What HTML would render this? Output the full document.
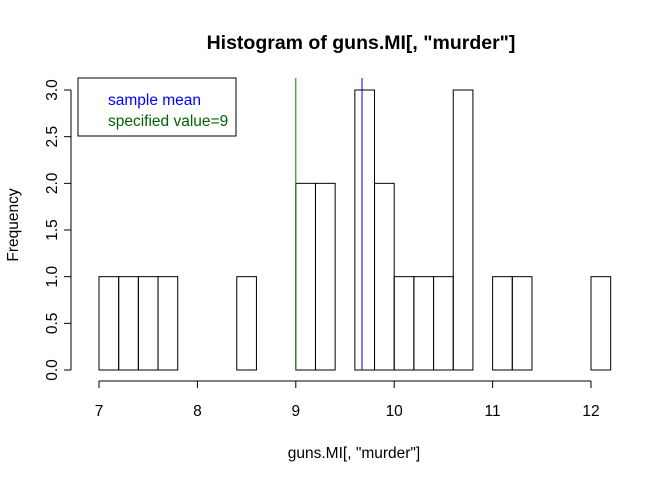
<!DOCTYPE html>
<html><head><meta charset="utf-8"><style>
body{margin:0;background:#fff}
svg{display:block;font-family:"Liberation Sans",Arial,sans-serif}
</style></head><body>
<svg id="chart" width="672" height="480" viewBox="0 0 672 480">
<text x="361" y="49" text-anchor="middle" font-size="19.5" font-weight="bold">Histogram of guns.MI[, "murder"]</text>
<text x="354" y="458" text-anchor="middle" font-size="15.5">guns.MI[, "murder"]</text>
<text x="18" y="225" text-anchor="middle" font-size="15.5" transform="rotate(-90 18 225)">Frequency</text>
<g id="bars"></g>
<g id="xaxis"></g>
<g id="yaxis"></g>
<g id="refs"></g>
<g>
<rect x="78" y="78" width="158" height="58" fill="#fff" stroke="#000"/>
<text x="108" y="105" font-size="15.5" fill="#0000ff">sample mean</text>
<text x="108" y="126" font-size="15.5" fill="#006400">specified value=9</text>
</g>
</svg>
<script>
const binStarts=[7.0,7.2,7.4,7.6,7.8,8.0,8.2,8.4,8.6,8.8,9.0,9.2,9.4,9.6,9.8,10.0,10.2,10.4,10.6,10.8,11.0,11.2,11.4,11.6,11.8,12.0];
const counts=[1,1,1,1,0,0,0,1,0,0,2,2,0,3,2,1,1,1,3,0,1,1,0,0,0,1];
const binWidth=0.2;
const xTicks=[7,8,9,10,11,12];
const yTicks=["0.0","0.5","1.0","1.5","2.0","2.5","3.0"];
const sampleMean=9.673;
const specifiedValue=9;
const NS="http://www.w3.org/2000/svg";
const x=v=>99+(v-7)*98.4;
const y=v=>370-v*93.33;
function mk(tag,attrs,parent,text){const e=document.createElementNS(NS,tag);for(const k in attrs)e.setAttribute(k,attrs[k]);if(text!==undefined)e.textContent=text;parent.appendChild(e);return e;}
const bars=document.getElementById('bars');
binStarts.forEach((b,i)=>{
 const r=mk('rect',{x:x(b),y:y(counts[i]),width:x(b+binWidth)-x(b),height:y(0)-y(counts[i]),fill:'none',stroke:'#000','stroke-width':1},bars);
 
 
});
const xa=document.getElementById('xaxis');
const xl=mk('line',{x1:x(xTicks[0]),x2:x(xTicks[xTicks.length-1]),y1:381,y2:381,stroke:'#000'},xa);


xTicks.forEach(t=>{
 mk('line',{x1:x(t),x2:x(t),y1:381,y2:388,stroke:'#000'},xa);
 const tx=mk('text',{x:x(t),y:416,'text-anchor':'middle','font-size':15.5},xa,String(t));
 
 
});
const ya=document.getElementById('yaxis');
const yl=mk('line',{x1:71,x2:71,y1:y(0),y2:y(3),stroke:'#000'},ya);


yTicks.forEach(t=>{
 const v=parseFloat(t);
 mk('line',{x1:64,x2:71,y1:y(v),y2:y(v),stroke:'#000'},ya);
 const tx=mk('text',{x:57,y:y(v),'text-anchor':'middle','font-size':15.5,transform:`rotate(-90 57 ${y(v)})`},ya,t);
 
 
});
const refs=document.getElementById('refs');
const m=mk('line',{x1:x(sampleMean),x2:x(sampleMean),y1:78,y2:370,stroke:'#0000ff'},refs);


const s=mk('line',{x1:x(specifiedValue),x2:x(specifiedValue),y1:78,y2:370,stroke:'#008000'},refs);


</script>
</body></html>
